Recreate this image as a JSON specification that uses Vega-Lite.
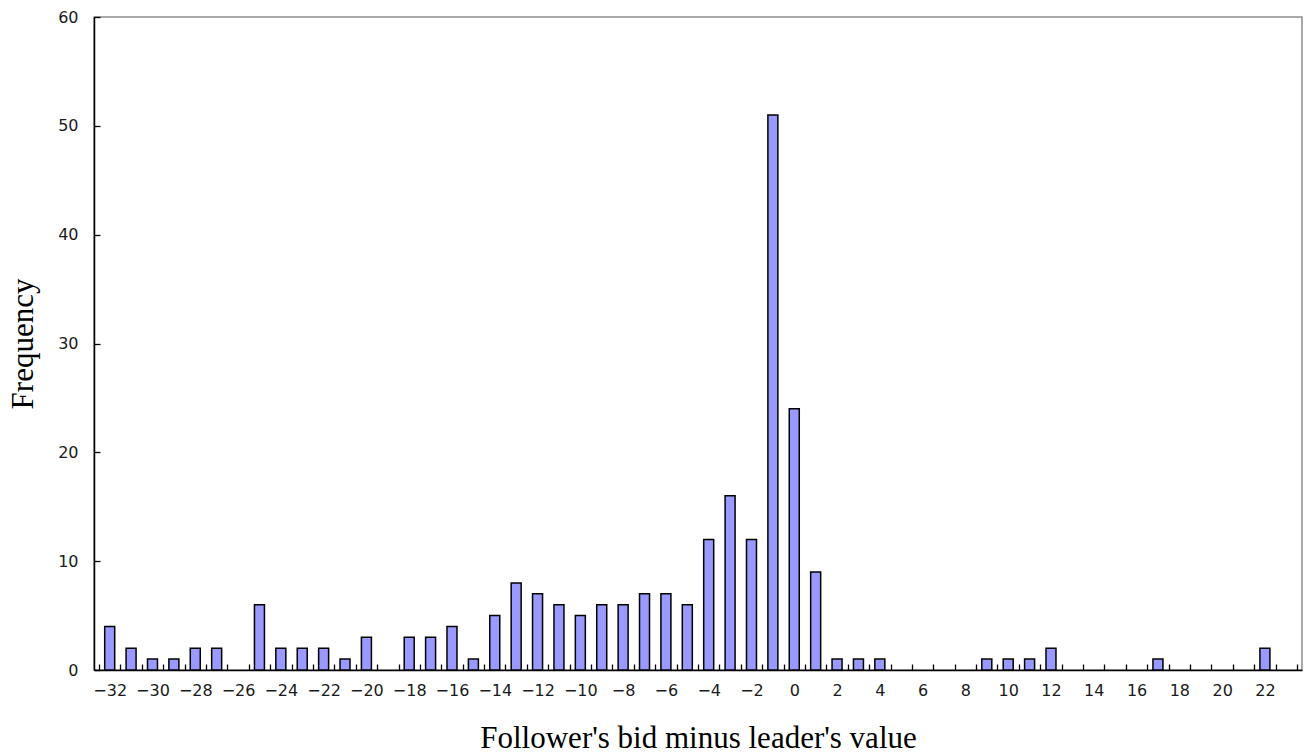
{
  "$schema": "https://vega.github.io/schema/vega-lite/v6.json",
  "width": 1208,
  "height": 653,
  "autosize": {"type": "none"},
  "padding": {"left": 94, "top": 17, "right": 14, "bottom": 86},
  "background": "white",
  "config": {
    "view": {"stroke": "#8c8c8c", "strokeWidth": 1.5},
    "axis": {
      "domainColor": "#000000",
      "domainWidth": 1.5,
      "ticks": true,
      "tickColor": "#000000",
      "tickWidth": 1.3,
      "labelFont": "DejaVu Sans",
      "labelFontSize": 16,
      "labelColor": "#1a1a1a",
      "titleFont": "Liberation Serif",
      "titleFontSize": 31,
      "titleFontWeight": "normal",
      "titleColor": "#000000",
      "grid": false
    }
  },
  "data": {
    "values": [
      {"diff": -32, "freq": 4}, {"diff": -31, "freq": 2}, {"diff": -30, "freq": 1}, {"diff": -29, "freq": 1},
      {"diff": -28, "freq": 2}, {"diff": -27, "freq": 2}, {"diff": -25, "freq": 6},
      {"diff": -24, "freq": 2}, {"diff": -23, "freq": 2}, {"diff": -22, "freq": 2}, {"diff": -21, "freq": 1},
      {"diff": -20, "freq": 3}, {"diff": -18, "freq": 3}, {"diff": -17, "freq": 3},
      {"diff": -16, "freq": 4}, {"diff": -15, "freq": 1}, {"diff": -14, "freq": 5}, {"diff": -13, "freq": 8},
      {"diff": -12, "freq": 7}, {"diff": -11, "freq": 6}, {"diff": -10, "freq": 5}, {"diff": -9, "freq": 6},
      {"diff": -8, "freq": 6}, {"diff": -7, "freq": 7}, {"diff": -6, "freq": 7}, {"diff": -5, "freq": 6},
      {"diff": -4, "freq": 12}, {"diff": -3, "freq": 16}, {"diff": -2, "freq": 12}, {"diff": -1, "freq": 51},
      {"diff": 0, "freq": 24}, {"diff": 1, "freq": 9}, {"diff": 2, "freq": 1}, {"diff": 3, "freq": 1},
      {"diff": 4, "freq": 1}, {"diff": 9, "freq": 1}, {"diff": 10, "freq": 1}, {"diff": 11, "freq": 1},
      {"diff": 12, "freq": 2}, {"diff": 17, "freq": 1}, {"diff": 22, "freq": 2}
    ]
  },
  "mark": {"type": "bar", "width": 10, "fill": "#9999ff", "stroke": "#000000", "strokeWidth": 1.5},
  "encoding": {
    "x": {
      "field": "diff",
      "type": "quantitative",
      "scale": {"domain": [-32.5, 23.5], "nice": false, "zero": false},
      "axis": {
        "title": "Follower's bid minus leader's value",
        "values": [-32.5, -32, -31.5, -30.5, -30, -29.5, -28.5, -28, -27.5, -26.5, -26, -25.5, -24.5, -24, -23.5, -22.5, -22, -21.5, -20.5, -20, -19.5, -18.5, -18, -17.5, -16.5, -16, -15.5, -14.5, -14, -13.5, -12.5, -12, -11.5, -10.5, -10, -9.5, -8.5, -8, -7.5, -6.5, -6, -5.5, -4.5, -4, -3.5, -2.5, -2, -1.5, -0.5, 0, 0.5, 1.5, 2, 2.5, 3.5, 4, 4.5, 5.5, 6, 6.5, 7.5, 8, 8.5, 9.5, 10, 10.5, 11.5, 12, 12.5, 13.5, 14, 14.5, 15.5, 16, 16.5, 17.5, 18, 18.5, 19.5, 20, 20.5, 21.5, 22, 22.5, 23.5],
        "labelExpr": "datum.value % 1 === 0 ? format(datum.value, 'd') : ''",
        "labelOverlap": false,
        "labelBound": false,
        "labelFlush": false,
        "tickSize": -6,
        "tickOpacity": {"condition": {"test": "datum.value % 1 === 0", "value": 0}, "value": 1},
        "labelPadding": 18,
        "titlePadding": 25
      }
    },
    "y": {
      "field": "freq",
      "type": "quantitative",
      "scale": {"domain": [0, 60], "nice": false},
      "axis": {
        "title": "Frequency",
        "values": [0, 10, 20, 30, 40, 50, 60],
        "tickSize": -6,
        "labelPadding": 22,
        "titlePadding": 18
      }
    }
  }
}
